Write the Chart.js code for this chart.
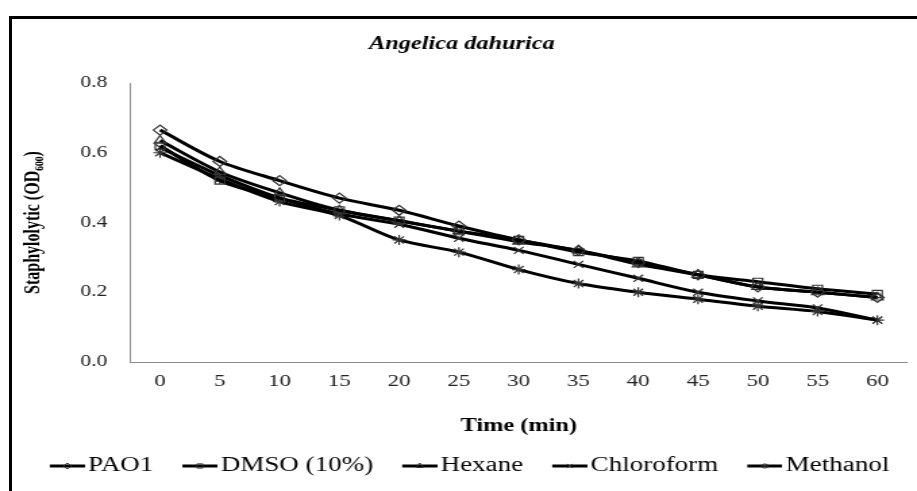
<!DOCTYPE html>
<html>
<head>
<meta charset="utf-8">
<script src="https://cdn.jsdelivr.net/npm/chart.js@4.4.0/dist/chart.umd.min.js"></script>
<style>
html, body { margin: 0; padding: 0; background: #fff; overflow: hidden; }
#wrap { position: absolute; left: 0; top: 0; width: 679px; height: 491px; transform: scaleX(1.3505); transform-origin: 0 0; }
#chart { width: 679px; height: 491px; }
#frame { position: absolute; left: 9px; top: 16px; width: 1000px; height: 600px; border-top: 3px solid #000; border-left: 3px solid #000; }
</style>
</head>
<body>
<div id="wrap"><canvas id="chart" width="679" height="491"></canvas></div>
<div id="frame"></div>
<script>
// DATA

const times = ['0', '5', '10', '15', '20', '25', '30', '35', '40', '45', '50', '55', '60'];

const pao1       = [0.665, 0.575, 0.52, 0.47, 0.435, 0.39, 0.35, 0.32, 0.285, 0.25, 0.215, 0.20, 0.185];
const dmso       = [0.62, 0.52, 0.47, 0.435, 0.405, 0.375, 0.35, 0.315, 0.29, 0.25, 0.23, 0.21, 0.195];
const hexane     = [0.635, 0.545, 0.485, 0.435, 0.405, 0.375, 0.345, 0.32, 0.28, 0.25, 0.215, 0.20, 0.185];
const chloroform = [0.615, 0.535, 0.47, 0.425, 0.395, 0.355, 0.32, 0.28, 0.24, 0.20, 0.175, 0.155, 0.12];
const methanol   = [0.60, 0.525, 0.46, 0.42, 0.35, 0.315, 0.265, 0.225, 0.20, 0.18, 0.16, 0.145, 0.12];

const seriesNames = ['PAO1', 'DMSO (10%)', 'Hexane', 'Chloroform', 'Methanol'];
const markers = ['rectRot', 'rect', 'triangle', 'crossRot', 'star'];

const serif = "'Liberation Serif', 'DejaVu Serif', serif";

// ICONES DA LEGENDA (linha + marcador)

function makeIcon(style) {
    const c = document.createElement('canvas');
    c.width = 45;
    c.height = 14;
    const g = c.getContext('2d');
    g.strokeStyle = '#000';
    g.lineWidth = 3;
    g.beginPath();
    g.moveTo(19, 7);
    g.lineTo(45, 7);
    g.stroke();
    g.strokeStyle = '#333';
    g.fillStyle = 'rgba(0,0,0,0)';
    g.lineWidth = 1;
    Chart.helpers.drawPoint(g, { pointStyle: style, radius: 3, rotation: 0, borderWidth: 1 }, 32, 7);
    return c;
}

const icons = markers.map(makeIcon);

const values = [pao1, dmso, hexane, chloroform, methanol];

const datasets = values.map((v, i) => ({
    label: seriesNames[i],
    data: v,
    borderColor: '#000',
    borderWidth: 3,
    tension: 0.3,
    fill: false,
    pointStyle: markers[i],
    pointRadius: 5,
    pointBorderColor: '#333',
    pointBorderWidth: 1.2,
    pointBackgroundColor: 'rgba(0,0,0,0)'
}));

// GRAFICO

new Chart(document.getElementById('chart'), {
    type: 'line',
    data: { labels: times, datasets: datasets },
    options: {
        responsive: false,
        animation: false,
        devicePixelRatio: 1,
        layout: { padding: { left: 12, right: 7.2, top: 0, bottom: 5 } },
        plugins: {
            title: {
                display: true,
                text: 'Angelica dahurica',
                color: '#000',
                font: { family: serif, size: 18, weight: 'bold', style: 'italic' },
                padding: { top: 34, bottom: 27.4 }
            },
            legend: {
                position: 'bottom',
                labels: {
                    usePointStyle: true,
                    pointStyleWidth: 30,
                    padding: 10,
                    color: '#000',
                    font: { family: serif, size: 20 },
                    generateLabels: (chart) => chart.data.datasets.map((ds, i) => ({
                        text: ds.label,
                        pointStyle: icons[i],
                        rotation: 0,
                        fillStyle: 'rgba(0,0,0,0)',
                        strokeStyle: 'rgba(0,0,0,0)',
                        lineWidth: 0,
                        hidden: false,
                        fontColor: '#000',
                        datasetIndex: i
                    }))
                }
            },
            tooltip: { enabled: false }
        },
        scales: {
            x: {
                offset: true,
                grid: { display: false, drawTicks: false },
                border: { color: '#8c8c8c', width: 1 },
                ticks: { color: '#222', padding: 9, font: { family: serif, size: 17 } },
                title: {
                    display: true,
                    text: 'Time (min)',
                    color: '#000',
                    font: { family: serif, size: 18, weight: 'bold' },
                    padding: { top: 0, bottom: 9.2 }
                },
                afterFit: (scale) => { scale.height = 84; }
            },
            y: {
                min: 0,
                max: 0.8,
                grid: { display: false, drawTicks: false },
                border: { color: '#8c8c8c', width: 1 },
                ticks: {
                    stepSize: 0.2,
                    color: '#222',
                    padding: 17,
                    font: { family: serif, size: 16 },
                    callback: (v) => v.toFixed(1)
                },
                title: {
                    display: true,
                    text: 'Staphylolytic (OD₆₀₀)',
                    color: '#000',
                    font: { family: serif, size: 16, weight: 'bold' },
                    padding: { top: 3.4, bottom: 0 }
                },
                afterFit: (scale) => { scale.width = 84.4; }
            }
        }
    }
});
</script>
</body>
</html>
